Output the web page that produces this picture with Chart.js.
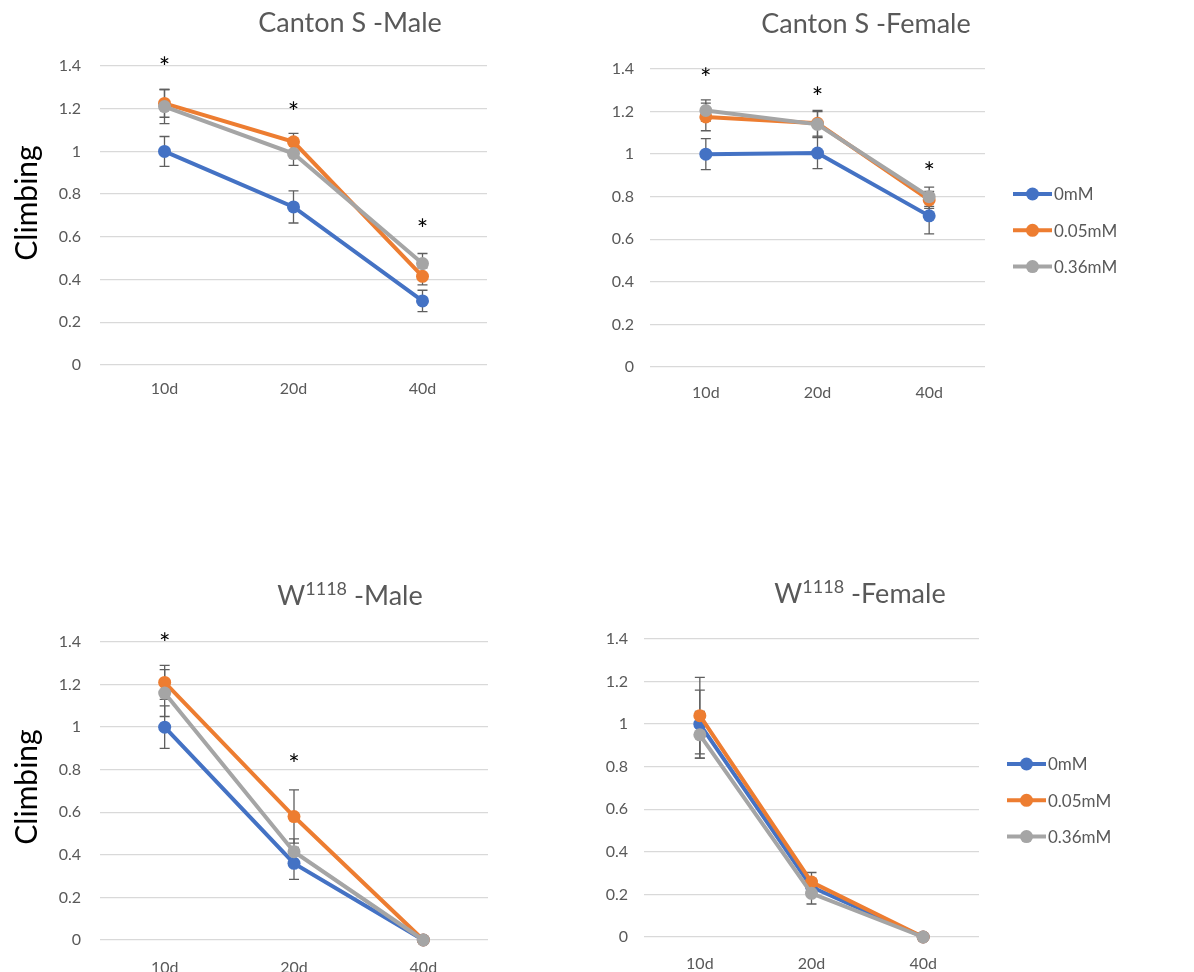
<!DOCTYPE html>
<html>
<head>
<meta charset="utf-8">
<script src="https://cdn.jsdelivr.net/npm/chart.js@4.4.1/dist/chart.umd.min.js"></script>
<style>
  html, body { margin: 0; padding: 0; background: #fff; }
  body { width: 1194px; height: 972px; position: relative; overflow: hidden; }
  .panel { position: absolute; }
  .panel canvas { display: block; }
</style>
</head>
<body>
<div class="panel" style="left:0;top:0"><canvas id="csMale" width="590" height="420"></canvas></div>
<div class="panel" style="left:590px;top:0"><canvas id="csFemale" width="604" height="420"></canvas></div>
<div class="panel" style="left:0;top:570px"><canvas id="wMale" width="590" height="402"></canvas></div>
<div class="panel" style="left:590px;top:570px"><canvas id="wFemale" width="604" height="402"></canvas></div>
<script>
// categories, series and tick labels
const categories = ['10d', '20d', '40d']
const seriesNames = ['0mM', '0.05mM', '0.36mM']
const yTickLabels = ['0', '0.2', '0.4', '0.6', '0.8', '1', '1.2', '1.4']

// Canton S - Male
const csMale0 = [1.00, 0.74, 0.30]
const csMale005 = [1.225, 1.045, 0.415]
const csMale036 = [1.21, 0.99, 0.475]
const csMaleErr0 = [0.07, 0.075, 0.05]
const csMaleErr005 = [0.065, 0.04, 0.04]
const csMaleErr036 = [0.08, 0.055, 0.047]
const csMaleStars = [1.42, 1.21, 0.66]

// Canton S - Female
const csFemale0 = [1.00, 1.005, 0.71]
const csFemale005 = [1.175, 1.145, 0.785]
const csFemale036 = [1.205, 1.14, 0.80]
const csFemaleErr0 = [0.073, 0.073, 0.085]
const csFemaleErr005 = [0.065, 0.06, 0.04]
const csFemaleErr036 = [0.05, 0.06, 0.045]
const csFemaleStars = [1.38, 1.29, 0.94]

// W1118 - Male
const wMale0 = [1.00, 0.36, 0]
const wMale005 = [1.21, 0.58, 0]
const wMale036 = [1.16, 0.415, 0]
const wMaleErr0 = [0.10, 0.075, 0]
const wMaleErr005 = [0.08, 0.125, 0]
const wMaleErr036 = [0.11, 0.06, 0]
const wMaleStars = [1.42, 0.85, null]

// W1118 - Female
const wFemale0 = [1.00, 0.235, 0]
const wFemale005 = [1.04, 0.258, 0]
const wFemale036 = [0.95, 0.205, 0]
const wFemaleErr0 = [0.16, 0.04, 0]
const wFemaleErr005 = [0.18, 0.045, 0]
const wFemaleErr036 = [0.11, 0.05, 0]
const wFemaleStars = [null, null, null]

const FONT = 'Lato, "Noto Sans", sans-serif'
const colors = ['#4472C4', '#ED7D31', '#A5A5A5']
const textGray = '#595959'

const extrasPlugin = {
    id: 'extras',
    beforeDatasetsDraw(chart, args, opts) {
        const { ctx } = chart
        const x = chart.scales.x, y = chart.scales.y
        ctx.save()
        ctx.strokeStyle = '#5f5f5f'
        ctx.lineWidth = 1.3
        opts.errors.forEach((errs, i) => {
            const vals = chart.data.datasets[i].data
            errs.forEach((e, j) => {
                if (!e) return
                const px = x.getPixelForValue(j)
                const top = y.getPixelForValue(vals[j] + e)
                const bot = y.getPixelForValue(vals[j] - e)
                ctx.beginPath()
                ctx.moveTo(px, top); ctx.lineTo(px, bot)
                ctx.moveTo(px - 5, top); ctx.lineTo(px + 5, top)
                ctx.moveTo(px - 5, bot); ctx.lineTo(px + 5, bot)
                ctx.stroke()
            })
        })
        ctx.restore()
    },
    afterDraw(chart, args, opts) {
        const { ctx, chartArea } = chart
        const x = chart.scales.x, y = chart.scales.y
        ctx.save()

        // significance stars
        ctx.fillStyle = '#000'
        ctx.font = '27px ' + FONT
        ctx.textAlign = 'center'
        ctx.textBaseline = 'alphabetic'
        opts.stars.forEach((s, j) => {
            if (s == null) return
            ctx.fillText('*', x.getPixelForValue(j), y.getPixelForValue(s) + 15)
        })

        // title, with optional superscript part
        const t = opts.title
        ctx.fillStyle = textGray
        ctx.textAlign = 'left'
        ctx.font = '27px ' + FONT
        const w1 = ctx.measureText(t.main).width
        const w3 = ctx.measureText(t.rest).width
        ctx.font = '18px ' + FONT
        const w2 = t.sup ? ctx.measureText(t.sup).width : 0
        let tx = t.x - (w1 + w2 + w3) / 2
        ctx.font = '27px ' + FONT
        ctx.fillText(t.main, tx, t.y)
        tx += w1
        if (t.sup) {
            ctx.font = '18px ' + FONT
            ctx.fillText(t.sup, tx, t.y - 10)
            tx += w2
            ctx.font = '27px ' + FONT
        }
        ctx.fillText(t.rest, tx, t.y)

        // y axis title
        if (opts.yTitle) {
            ctx.save()
            ctx.translate(opts.yTitle.x, opts.yTitle.y)
            ctx.rotate(-Math.PI / 2)
            ctx.fillStyle = '#000'
            ctx.font = '30px ' + FONT
            ctx.textAlign = 'center'
            ctx.textBaseline = 'middle'
            ctx.fillText('Climbing', 0, 0)
            ctx.restore()
        }

        // legend: line with marker, like the spreadsheet one
        if (opts.legend) {
            const lx = chartArea.right + 28
            seriesNames.forEach((name, i) => {
                const ly = chartArea.top + 125 + i * 36.3
                ctx.strokeStyle = colors[i]
                ctx.lineWidth = 4
                ctx.beginPath()
                ctx.moveTo(lx, ly); ctx.lineTo(lx + 39, ly)
                ctx.stroke()
                ctx.fillStyle = colors[i]
                ctx.beginPath()
                ctx.arc(lx + 19.5, ly, 6.5, 0, Math.PI * 2)
                ctx.fill()
                ctx.fillStyle = textGray
                ctx.font = '17px ' + FONT
                ctx.textAlign = 'left'
                ctx.textBaseline = 'middle'
                ctx.fillText(name, lx + 41, ly + 1)
            })
        }
        ctx.restore()
    }
}

function buildChartConfig(p) {
    return {
        type: 'line',
        data: {
            labels: categories,
            datasets: p.series.map((vals, i) => ({
                label: seriesNames[i],
                data: vals,
                borderColor: colors[i],
                backgroundColor: colors[i],
                pointBackgroundColor: colors[i],
                pointBorderWidth: 0,
                pointRadius: 6.5,
                borderWidth: 4,
                tension: 0,
                clip: false,
                order: 3 - i
            }))
        },
        options: {
            responsive: false,
            animation: false,
            devicePixelRatio: 1,
            layout: { padding: p.padding },
            plugins: {
                legend: { display: false },
                title: { display: false },
                tooltip: { enabled: false },
                extras: {
                    errors: p.errors,
                    stars: p.stars,
                    title: p.title,
                    yTitle: p.yTitle,
                    legend: p.legend
                }
            },
            scales: {
                x: {
                    offset: true,
                    grid: { display: false, offset: true, drawTicks: false },
                    border: { display: false },
                    ticks: { color: textGray, font: { family: FONT, size: 16 }, padding: p.xPad },
                    afterFit: s => { s.height = p.xHeight }
                },
                y: {
                    min: 0,
                    max: 1.4,
                    grid: { color: '#D9D9D9', lineWidth: 1.3, drawTicks: false },
                    border: { display: false },
                    ticks: {
                        stepSize: 0.2,
                        color: textGray,
                        font: { family: FONT, size: 16 },
                        padding: p.yPad,
                        callback: (v, i) => yTickLabels[i]
                    },
                    afterFit: s => { s.width = p.yWidth }
                }
            }
        },
        plugins: [extrasPlugin]
    }
}

new Chart(document.getElementById('csMale'), buildChartConfig({
    series: [csMale0, csMale005, csMale036],
    errors: [csMaleErr0, csMaleErr005, csMaleErr036],
    stars: csMaleStars,
    title: { main: 'Canton S -Male', sup: '', rest: '', x: 350, y: 32 },
    yTitle: { x: 27, y: 203 },
    legend: false,
    padding: { top: 66, right: 103, bottom: 10, left: 0 },
    yWidth: 100, xHeight: 45, xPad: 14, yPad: 19
}))

new Chart(document.getElementById('csFemale'), buildChartConfig({
    series: [csFemale0, csFemale005, csFemale036],
    errors: [csFemaleErr0, csFemaleErr005, csFemaleErr036],
    stars: csFemaleStars,
    title: { main: 'Canton S -Female', sup: '', rest: '', x: 276, y: 33 },
    yTitle: null,
    legend: true,
    padding: { top: 69, right: 209, bottom: 8, left: 0 },
    yWidth: 60, xHeight: 45, xPad: 16, yPad: 16
}))

new Chart(document.getElementById('wMale'), buildChartConfig({
    series: [wMale0, wMale005, wMale036],
    errors: [wMaleErr0, wMaleErr005, wMaleErr036],
    stars: wMaleStars,
    title: { main: 'W', sup: '1118', rest: ' -Male', x: 350, y: 35 },
    yTitle: { x: 27, y: 217 },
    legend: false,
    padding: { top: 72, right: 102, bottom: 0, left: 0 },
    yWidth: 100, xHeight: 32, xPad: 18, yPad: 19
}))

new Chart(document.getElementById('wFemale'), buildChartConfig({
    series: [wFemale0, wFemale005, wFemale036],
    errors: [wFemaleErr0, wFemaleErr005, wFemaleErr036],
    stars: wFemaleStars,
    title: { main: 'W', sup: '1118', rest: ' -Female', x: 270, y: 33 },
    yTitle: null,
    legend: true,
    padding: { top: 69, right: 215, bottom: 0, left: 0 },
    yWidth: 54, xHeight: 35, xPad: 17, yPad: 16
}))
</script>
</body>
</html>
